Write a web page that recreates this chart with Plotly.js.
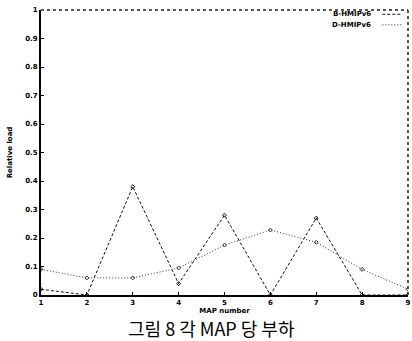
<!DOCTYPE html>
<html>
<head>
<meta charset="utf-8">
<script src="https://cdn.plot.ly/plotly-3.0.1.min.js"></script>
<style>html,body{margin:0;padding:0;background:#fff;}#chart{width:412px;height:341px;}</style>
</head>
<body>
<div id="chart"></div>
<script>
const mapNumbers = [1, 2, 3, 4, 5, 6, 7, 8, 9];
const seriesNames = ["B-HMIPv6", "D-HMIPv6"];
const loadSeries1 = [0.02, 0.0, 0.38, 0.04, 0.28, 0.0, 0.27, 0.0, 0.0];
const loadSeries2 = [0.09, 0.06, 0.06, 0.095, 0.175, 0.228, 0.185, 0.09, 0.02];
const yTickVals = [0, 0.1, 0.2, 0.3, 0.4, 0.5, 0.6, 0.7, 0.8, 0.9, 1];
const yTickText = ["0", "0.1", "0.2", "0.3", "0.4", "0.5", "0.6", "0.7", "0.8", "0.9", "1"];
const xTickVals = [1, 2, 3, 4, 5, 6, 7, 8, 9];
const xTickText = ["1", "2", "3", "4", "5", "6", "7", "8", "9"];
const caption = "그림 8 각 MAP 당 부하";

const tickFont = {family: "DejaVu Sans", size: 7, color: "#000", weight: "bold"};

const traces = [
  {x: mapNumbers, y: loadSeries1, name: seriesNames[0], mode: "lines+markers",
   line: {color: "#111", width: 1, dash: "3px,2px"},
   marker: {symbol: "diamond-open", size: 3, color: "#111", line: {width: 1}}},
  {x: mapNumbers, y: loadSeries2, name: seriesNames[1], mode: "lines+markers",
   line: {color: "#333", width: 1, dash: "1px,2px"},
   marker: {symbol: "diamond-open", size: 3, color: "#333", line: {width: 1}}}
];

const layout = {
  width: 412, height: 341,
  margin: {l: 41, r: 4, t: 10, b: 46},
  paper_bgcolor: "#fff", plot_bgcolor: "#fff",
  showlegend: false,
  xaxis: {range: [1, 9], tickvals: xTickVals, ticktext: xTickText, tickfont: tickFont,
          showgrid: false, zeroline: false, showline: true, linecolor: "#000", linewidth: 2,
          ticks: "inside", ticklen: 3, tickcolor: "#000",
          title: {text: "MAP number", font: {family: "DejaVu Sans", size: 7, color: "#000", weight: "bold"}, standoff: 0}},
  yaxis: {range: [0, 1], tickvals: yTickVals, ticktext: yTickText, tickfont: tickFont,
          showgrid: false, zeroline: false, showline: true, linecolor: "#000", linewidth: 2,
          ticks: "inside", ticklen: 3, tickcolor: "#000",
          title: {text: "Relative load", font: {family: "DejaVu Sans", size: 7, color: "#000", weight: "bold"}, standoff: 12}},
  shapes: [
    {type: "line", xref: "paper", yref: "paper", x0: 0, x1: 1, y0: 1, y1: 1, line: {color: "#222", width: 1.5, dash: "dot"}},
    {type: "line", xref: "paper", yref: "paper", x0: 1, x1: 1, y0: 0, y1: 1, line: {color: "#222", width: 1.5, dash: "dot"}},
    {type: "line", xref: "paper", yref: "paper", x0: 0.93, x1: 0.985, y0: 0.985, y1: 0.985, line: {color: "#111", width: 1, dash: "3px,2px"}},
    {type: "line", xref: "paper", yref: "paper", x0: 0.93, x1: 0.985, y0: 0.948, y1: 0.948, line: {color: "#333", width: 1, dash: "1px,2px"}}
  ],
  annotations: [
    {xref: "paper", yref: "paper", x: 0.905, y: 0.985, xanchor: "right", yanchor: "middle", showarrow: false,
     text: seriesNames[0], font: {family: "DejaVu Sans", size: 7, color: "#000", weight: "bold"}},
    {xref: "paper", yref: "paper", x: 0.905, y: 0.948, xanchor: "right", yanchor: "middle", showarrow: false,
     text: seriesNames[1], font: {family: "DejaVu Sans", size: 7, color: "#000", weight: "bold"}},
    {xref: "paper", yref: "paper", x: 0.465, y: -0.116, xanchor: "center", yanchor: "middle", showarrow: false,
     borderpad: 0,
     text: caption, font: {family: "Noto Sans CJK KR", size: 18, color: "#000"}}
  ]
};

Plotly.newPlot("chart", traces, layout, {displayModeBar: false, staticPlot: true});
</script>
</body>
</html>
